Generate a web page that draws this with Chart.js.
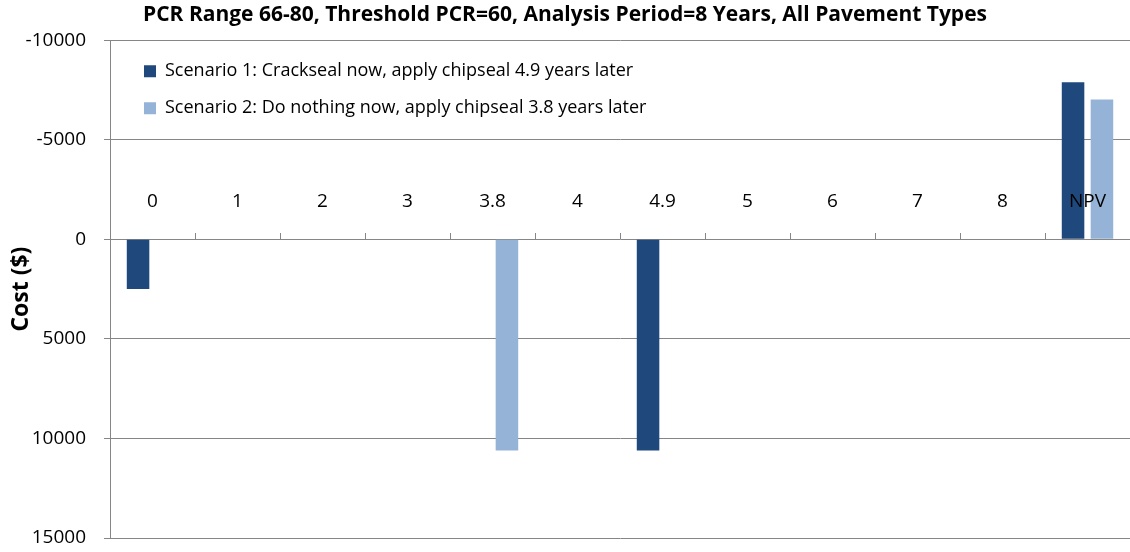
<!DOCTYPE html>
<html>
<head>
<meta charset="utf-8">
<script src="https://cdn.jsdelivr.net/npm/chart.js@4.4.1/dist/chart.umd.min.js"></script>
<style>
  html, body { margin: 0; padding: 0; background: #fff; }
  #wrap { width: 1130px; height: 552px; position: relative; }
</style>
</head>
<body>
<div id="wrap"><canvas id="costChart"></canvas></div>
<script>
  // ---- Data ------------------------------------------------
  const CATEGORIES = ['0', '1', '2', '3', '3.8', '4', '4.9', '5', '6', '7', '8', 'NPV'];
  const SCENARIO_1 = [2500, null, null, null, null, null, 10600, null, null, null, null, -7890];
  const SCENARIO_2 = [null, null, null, null, 10600, null, null, null, null, null, null, -7020];
  const SERIES_NAMES = [
    'Scenario 1: Crackseal now, apply chipseal 4.9 years later',
    'Scenario 2: Do nothing now, apply chipseal 3.8 years later',
  ];
  const Y_TICKS = [-10000, -5000, 0, 5000, 10000, 15000];
  const TITLE = 'PCR Range 66-80, Threshold PCR=60, Analysis Period=8 Years, All Pavement Types';
  const Y_TITLE = 'Cost ($)';

  const GRID = '#868686';
  Chart.defaults.font.family = "'Open Sans', sans-serif";
  Chart.defaults.color = '#000';

  // small upward tick marks on the zero line, between categories
  const zeroLineTicks = {
    id: 'zeroLineTicks',
    afterDatasetsDraw(chart) {
      const xs = chart.scales.x, ys = chart.scales.y;
      const y0 = Math.round(ys.getPixelForValue(0));
      const ctx = chart.ctx;
      ctx.save();
      ctx.strokeStyle = GRID;
      ctx.lineWidth = 1;
      ctx.beginPath();
      for (let i = 1; i < CATEGORIES.length; i++) {
        const xb = Math.round((xs.getPixelForValue(i - 1) + xs.getPixelForValue(i)) / 2) + 0.5;
        ctx.moveTo(xb, y0 - 6);
        ctx.lineTo(xb, y0);
      }
      ctx.stroke();
      ctx.restore();
    },
  };

  // legend sits inside the plot area, a little in from the top-left corner
  const legendNudge = {
    id: 'legendNudge',
    afterLayout(chart) {
      if (!chart.legend) return;
      chart.legend.left = chart.chartArea.left + 15;
      chart.legend.top = chart.chartArea.top + 3;
      chart.legend.bottom = chart.chartArea.bottom;
    },
  };

  new Chart(document.getElementById('costChart'), {
    type: 'bar',
    data: {
      labels: CATEGORIES,
      datasets: [
        { label: SERIES_NAMES[0], data: SCENARIO_1, backgroundColor: '#1F497D' },
        { label: SERIES_NAMES[1], data: SCENARIO_2, backgroundColor: '#95B3D7' },
      ],
    },
    options: {
      responsive: true,
      maintainAspectRatio: false,
      animation: false,
      events: [],
      categoryPercentage: 0.68,
      barPercentage: 0.78,
      layout: { padding: { top: 0, left: 0, right: 0, bottom: 14 } },
      scales: {
        x: {
          position: { y: 0 },
          grid: { display: false, drawTicks: false },
          border: { display: false },
          ticks: { color: '#000', font: { size: 19 }, padding: -49, maxRotation: 0, autoSkip: false, z: 2 },
        },
        y: {
          reverse: true,
          min: Y_TICKS[0],
          max: Y_TICKS[Y_TICKS.length - 1],
          afterFit(scale) {
            scale.width = 110;
            scale.paddingTop = 0;
            scale.paddingBottom = 0;
          },
          ticks: {
            stepSize: Y_TICKS[1] - Y_TICKS[0],
            color: '#000',
            font: { size: 19 },
            padding: 18,
            callback: (v) => String(v),
          },
          grid: { color: GRID, lineWidth: 1, tickLength: 6 },
          border: { color: GRID, width: 1 },
          title: {
            display: true,
            text: Y_TITLE,
            color: '#000',
            font: { size: 23, weight: 'bold' },
            padding: { top: 8, bottom: 0 },
          },
        },
      },
      plugins: {
        title: {
          display: true,
          text: TITLE,
          color: '#000',
          font: { size: 21, weight: 'bold' },
          padding: { top: 2, bottom: 13 },
        },
        legend: {
          position: 'chartArea',
          align: 'start',
          labels: { boxWidth: 12, boxHeight: 12, padding: 19, color: '#000', font: { size: 18 } },
        },
        tooltip: { enabled: false },
      },
    },
    plugins: [zeroLineTicks, legendNudge],
  });
</script>
</body>
</html>
